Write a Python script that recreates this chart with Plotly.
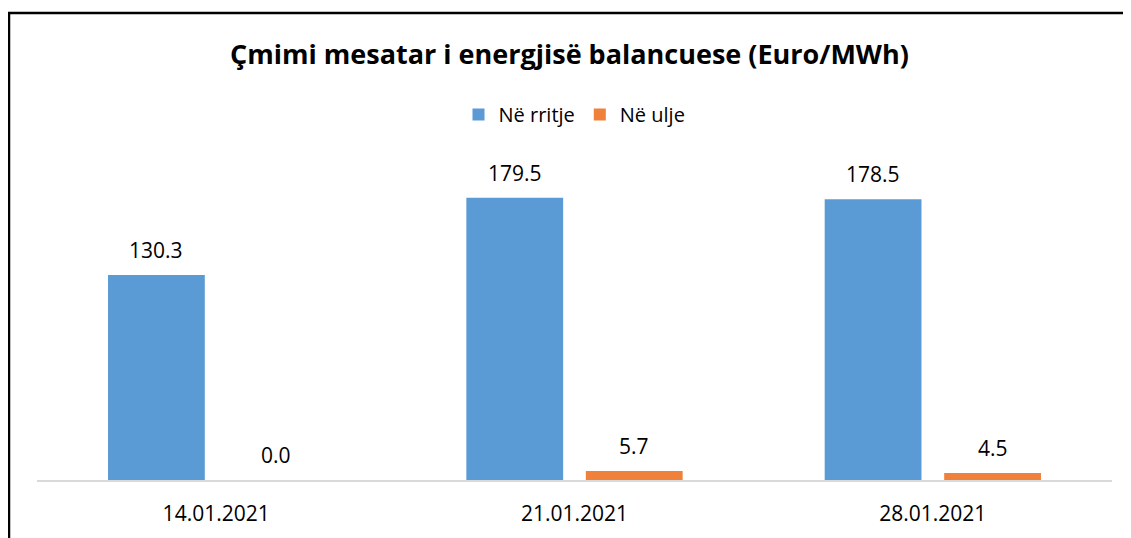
import plotly.graph_objects as go

# ---- data ----
categories = ["14.01.2021", "21.01.2021", "28.01.2021"]
rritje = [130.3, 179.5, 178.5]
ulje = [0.0, 5.7, 4.5]
series_names = ["Në rritje", "Në ulje"]
title_text = "Çmimi mesatar i energjisë balancuese (Euro/MWh)"

# ---- layout constants (page body adds an 8px offset) ----
W, H = 1123, 530
ML, MR, MT, MB = 29, 19, 132, 58
PW, PH = W - ML - MR, H - MT - MB
FONT = "Open Sans"
BLUE = "#5b9bd5"
ORANGE = "#f0813a"

fig = go.Figure()
fig.add_trace(go.Bar(x=categories, y=rritje, name=series_names[0],
                     marker=dict(color=BLUE, line=dict(width=0))))
fig.add_trace(go.Bar(x=categories, y=ulje, name=series_names[1],
                     marker=dict(color=ORANGE, line=dict(width=0))))

# value labels
slot = PW / len(categories)
group = slot * (1 - 0.333)
off = group / 4
for vals, sh in ((rritje, -off), (ulje, off)):
    for c, v in zip(categories, vals):
        fig.add_annotation(x=c, y=v, xref="x", yref="y", text=f"{v:.1f}",
                           showarrow=False, xshift=sh, yshift=25,
                           yanchor="middle",
                           font=dict(family=FONT, size=21, color="#000000"))

def px_x(p):
    return (p - ML) / PW

def px_y(p):
    return (H - MB - p) / PH

# outer frame (top + left visible)
fig.add_shape(type="rect", xref="paper", yref="paper",
              x0=px_x(1), x1=px_x(1140), y0=px_y(5), y1=px_y(560),
              line=dict(color="#000000", width=2.5), fillcolor="rgba(0,0,0,0)",
              layer="above")

fig.update_layout(
    width=W, height=H,
    margin=dict(l=ML, r=MR, t=MT, b=MB),
    paper_bgcolor="white", plot_bgcolor="white",
    barmode="group", bargap=0.333, bargroupgap=0.19,
    title=dict(text=f"<b>{title_text}</b>", x=0.5, xanchor="center",
               y=1 - 47 / H, yanchor="middle",
               font=dict(family=FONT, size=27, color="#000000")),
    legend=dict(orientation="h", x=0.5, xanchor="center",
                y=px_y(106.5), yanchor="middle",
                font=dict(family=FONT, size=20, color="#000000"),
                itemwidth=30),
    xaxis=dict(showline=True, linecolor="#d9d9d9", linewidth=2,
               ticks="", showgrid=False, ticklabelstandoff=14,
               tickfont=dict(family=FONT, size=21, color="#000000")),
    yaxis=dict(visible=False, range=[0, PH / 1.573], showgrid=False,
               zeroline=False),
    showlegend=True,
)

fig.write_html("out.html")
